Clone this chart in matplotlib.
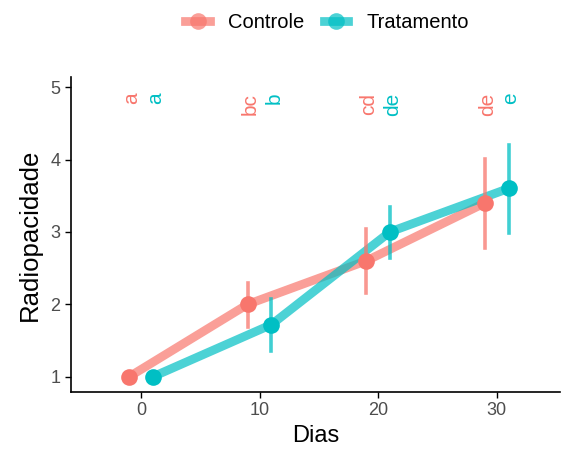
import matplotlib
matplotlib.use("Agg")
import matplotlib.pyplot as plt
from matplotlib.lines import Line2D

plt.rcParams['font.family'] = ['Liberation Sans', 'DejaVu Sans']

dias = [0, 10, 20, 30]
groups = ["Controle", "Tratamento"]
colors = {"Controle": "#F8766D", "Tratamento": "#00BFC4"}
dodge = {"Controle": -1.0, "Tratamento": 1.0}

media = {"Controle": [1.0, 2.0, 2.6, 3.4],
         "Tratamento": [1.0, 1.72, 3.0, 3.6]}
lower = {"Controle": [1.0, 1.69, 2.16, 2.78],
         "Tratamento": [1.0, 1.36, 2.64, 2.99]}
upper = {"Controle": [1.0, 2.30, 3.04, 4.01],
         "Tratamento": [1.0, 2.08, 3.35, 4.20]}
letras = {"Controle": ["a", "bc", "cd", "de"],
          "Tratamento": ["a", "b", "de", "e"]}
letra_y = 5.0

fig = plt.figure(figsize=(5.7, 4.5), dpi=100)
ax = fig.add_axes([0.1246, 0.129, 0.857, 0.700])

for g in groups:
    xs = [d + dodge[g] for d in dias]
    c = colors[g]
    ax.plot(xs, media[g], color=c, lw=6.3, alpha=0.7, solid_capstyle='butt', zorder=2)
    for x, lo, hi in zip(xs, lower[g], upper[g]):
        ax.plot([x, x], [lo, hi], color=c, lw=2.6, alpha=0.75, zorder=3)
    ax.plot(xs, media[g], 'o', color=c, ms=12, mec='none', zorder=4)
    for x, t in zip(xs, letras[g]):
        ax.annotate(t, xy=(x, letra_y), xytext=(1.8, -4), textcoords='offset points',
                    rotation=90, ha='center', va='top', color=c, fontsize=15)

ax.set_xlim(-5.9, 35.3)
ax.set_ylim(0.79, 5.14)
ax.set_xticks([0, 10, 20, 30])
ax.set_yticks([1, 2, 3, 4, 5])
ax.tick_params(axis='both', labelsize=13, labelcolor='#4D4D4D', color='black',
               length=4, width=1)
for s in ['top', 'right']:
    ax.spines[s].set_visible(False)
for s in ['left', 'bottom']:
    ax.spines[s].set_linewidth(1.2)
ax.set_xlabel("Dias", fontsize=17, labelpad=4)
ax.set_ylabel("Radiopacidade", fontsize=18.5, labelpad=6)

handles = [Line2D([0], [0], color=colors[g], lw=6.3, alpha=0.7, marker='o',
                  ms=12, mfc=colors[g], mec='none') for g in groups]
fig.legend(handles, groups, loc='center', bbox_to_anchor=(0.574, 0.951), ncol=2,
           frameon=False, fontsize=14.5, handlelength=1.2, handletextpad=0.9,
           columnspacing=1.0)

fig.savefig("out.png", dpi=100)
